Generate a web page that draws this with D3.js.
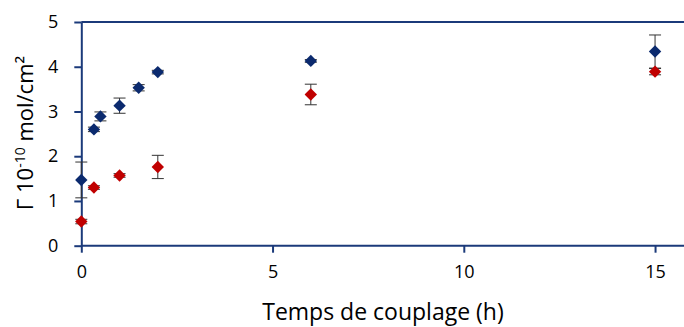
<!DOCTYPE html>
<html><head><meta charset="utf-8">
<script src="https://cdn.jsdelivr.net/npm/d3@7"></script>
<style>body{margin:0;background:#fff}svg{display:block}text{font-family:"Open Sans",sans-serif;fill:#000}</style>
</head><body><svg id="c" width="684" height="327"></svg>
<script>
const blueX = [0, 0.33, 0.5, 1, 1.5, 2, 6, 15];
const blueY = [1.47, 2.6, 2.89, 3.13, 3.53, 3.88, 4.13, 4.34];
const blueErr = [0.4, 0.05, 0.1, 0.17, 0.07, 0.04, 0.03, 0.37];
const redX = [0, 0.33, 1, 2, 6, 15];
const redY = [0.54, 1.3, 1.57, 1.76, 3.38, 3.89];
const redErr = [0.05, 0.04, 0.04, 0.26, 0.23, 0.07];
const xTicks = [0, 5, 10, 15];
const yTicks = [0, 1, 2, 3, 4, 5];

const svg = d3.select("#c");
const x = d3.scaleLinear().domain([0, 16]).range([81.3, 693.3]);
const y = d3.scaleLinear().domain([0, 5]).range([245.7, 22]);
const navy = "#1b3a7a";

svg.append("line").attr("x1", x(0)).attr("x2", 684).attr("y1", y(5)).attr("y2", y(5))
  .attr("stroke", navy).attr("stroke-width", 2);

const xa = svg.append("g").attr("transform", `translate(0,${y(0)})`)
  .call(d3.axisBottom(x).tickValues(xTicks).tickFormat(d3.format("d")).tickSize(7).tickPadding(13).tickSizeOuter(0));
const ya = svg.append("g").attr("transform", `translate(${x(0)},0)`)
  .call(d3.axisLeft(y).tickValues(yTicks).tickFormat(d3.format("d")).tickSize(7).tickPadding(16).tickSizeOuter(0));
[xa, ya].forEach(a => {
  a.select(".domain").attr("stroke", navy).attr("stroke-width", 2);
  a.selectAll(".tick line").attr("stroke", navy).attr("stroke-width", 2);
  a.selectAll(".tick text").style("font-size", "18px").attr("fill", "#000");
});
xa.select(".domain").attr("d", `M${x(0)},0H684`);

function series(xs, ys, es, color) {
  const g = svg.append("g");
  xs.forEach((xv, i) => {
    const cx = x(xv), t = y(ys[i] + es[i]), b = y(ys[i] - es[i]);
    const eg = g.append("g").attr("stroke", "#333").attr("stroke-width", 1);
    eg.append("line").attr("x1", cx).attr("x2", cx).attr("y1", t).attr("y2", b);
    eg.append("line").attr("x1", cx - 6).attr("x2", cx + 6).attr("y1", t).attr("y2", t);
    eg.append("line").attr("x1", cx - 6).attr("x2", cx + 6).attr("y1", b).attr("y2", b);
  });
  g.selectAll("path.m").data(xs).join("path").attr("class", "m")
    .attr("d", d3.symbol(d3.symbolDiamond2, 98)())
    .attr("transform", (d, i) => `translate(${x(d)},${y(ys[i])})`)
    .attr("fill", color);
}
series(blueX, blueY, blueErr, "#0b2a6e");
series(redX, redY, redErr, "#c00000");

svg.append("text").attr("x", 383).attr("y", 320).attr("text-anchor", "middle")
  .style("font-size", "23px").text("Temps de couplage (h)");
const yt = svg.append("text").attr("transform", "translate(33,133) rotate(-90)")
  .attr("text-anchor", "middle").style("font-size", "22px");
yt.append("tspan").text("Γ 10");
yt.append("tspan").attr("dy", -8).style("font-size", "14px").text("-10");
yt.append("tspan").attr("dy", 8).text(" mol/cm²");
</script></body></html>
